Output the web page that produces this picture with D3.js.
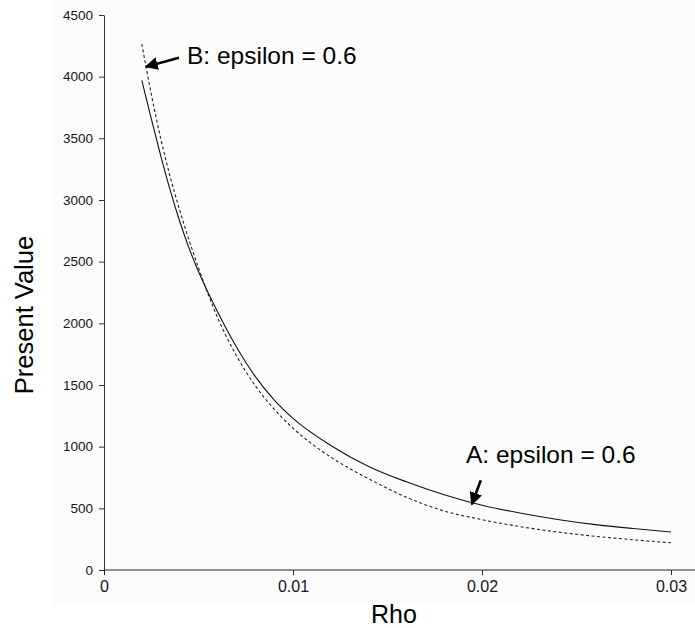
<!DOCTYPE html>
<html>
<head>
<meta charset="utf-8">
<script src="https://cdn.jsdelivr.net/npm/d3@7"></script>
<style>
  html, body { margin: 0; padding: 0; background: #fff; }
  svg { display: block; font-family: Arial, "Liberation Sans", sans-serif; }
</style>
</head>
<body>
<svg id="chart" width="695" height="628"></svg>
<script>
// Discount rate values (x) and present values for the two cases
const rho = [0.002, 0.0025, 0.003, 0.0035, 0.004, 0.0045, 0.005, 0.006, 0.007, 0.008, 0.009,
             0.010, 0.012, 0.014, 0.016, 0.018, 0.020, 0.022, 0.024, 0.026, 0.028, 0.030];
const caseA = [3970, 3660, 3360, 3080, 2830, 2610, 2420, 2095, 1810, 1570, 1380,
               1230, 1010, 840, 715, 610, 525, 462, 410, 368, 336, 308];
const caseB = [4265, 3860, 3500, 3190, 2920, 2675, 2450, 2050, 1740, 1495, 1305,
               1150, 915, 740, 590, 478, 408, 352, 308, 273, 245, 221];

const xTicks = [0, 0.01, 0.02, 0.03];
const yTicks = [0, 500, 1000, 1500, 2000, 2500, 3000, 3500, 4000, 4500];

// Annotation labels and the curve points their arrows touch
const labelA = "A: epsilon = 0.6";
const labelB = "B: epsilon = 0.6";
const arrowA = { rho: 0.01946, value: 533 };
const arrowB = { rho: 0.00222, value: 4081 };

const svg = d3.select("#chart");

// faint plot background
svg.append("rect").attr("x", 53).attr("y", 0).attr("width", 642).attr("height", 605)
  .attr("fill", "#fcfcfc");

const x = d3.scaleLinear().domain([0, 0.03]).range([104, 671]);
const y = d3.scaleLinear().domain([0, 4500]).range([570, 15]);

// y axis
const gy = svg.append("g").attr("transform", "translate(104,0)")
  .call(d3.axisLeft(y).tickValues(yTicks).tickSize(5).tickSizeOuter(0).tickPadding(6)
        .tickFormat(d3.format("d")));
gy.selectAll("text").attr("font-size", 13.5).attr("fill", "#151525")
  .attr("font-family", "Arial, 'Liberation Sans', sans-serif");
gy.selectAll("line, path").attr("stroke", "#333");

// x axis, baseline runs to the right edge
const gx = svg.append("g").attr("transform", "translate(0,570)")
  .call(d3.axisBottom(x).tickValues(xTicks).tickSize(5).tickSizeOuter(0).tickPadding(6)
        .tickFormat(d => d === 0 ? "0" : d3.format(".2f")(d)));
gx.select(".domain").attr("d", "M104,0H695");
gx.selectAll("text").attr("font-size", 16).attr("fill", "#151525")
  .attr("font-family", "Arial, 'Liberation Sans', sans-serif");
gx.selectAll("line, path").attr("stroke", "#222");

// axis titles
svg.append("text").attr("x", 394).attr("y", 623).attr("text-anchor", "middle")
  .attr("font-size", 25).attr("fill", "#000").text("Rho");
svg.append("text").attr("transform", "translate(33,315) rotate(-90)")
  .attr("text-anchor", "middle").attr("font-size", 25.5).attr("fill", "#000")
  .text("Present Value");

// curves
const line = d3.line().x(d => x(d[0])).y(d => y(d[1])).curve(d3.curveMonotoneX);
svg.append("path").datum(rho.map((r, i) => [r, caseA[i]]))
  .attr("d", line).attr("fill", "none").attr("stroke", "#111").attr("stroke-width", 1.1);
svg.append("path").datum(rho.map((r, i) => [r, caseB[i]]))
  .attr("d", line).attr("fill", "none").attr("stroke", "#222").attr("stroke-width", 1.1)
  .attr("stroke-dasharray", "3,2.5");

// arrowhead marker
svg.append("defs").append("marker").attr("id", "arrowhead")
  .attr("viewBox", "0 0 10 10").attr("refX", 9).attr("refY", 5)
  .attr("markerWidth", 5).attr("markerHeight", 5).attr("orient", "auto")
  .attr("markerUnits", "strokeWidth")
  .append("path").attr("d", "M0,0L10,5L0,10z").attr("fill", "#000");

function annotate(pt, dx, dy, label, tx, ty) {
  const px = x(pt.rho), py = y(pt.value);
  svg.append("line").attr("x1", px + dx).attr("y1", py + dy).attr("x2", px).attr("y2", py)
    .attr("stroke", "#000").attr("stroke-width", 2.6).attr("marker-end", "url(#arrowhead)");
  svg.append("text").attr("x", tx).attr("y", ty).attr("font-size", 24.5).attr("fill", "#000")
    .text(label);
}
annotate(arrowB, 33, -9, labelB, 187, 64);
annotate(arrowA, 9, -24, labelA, 466, 463);
</script>
</body>
</html>
